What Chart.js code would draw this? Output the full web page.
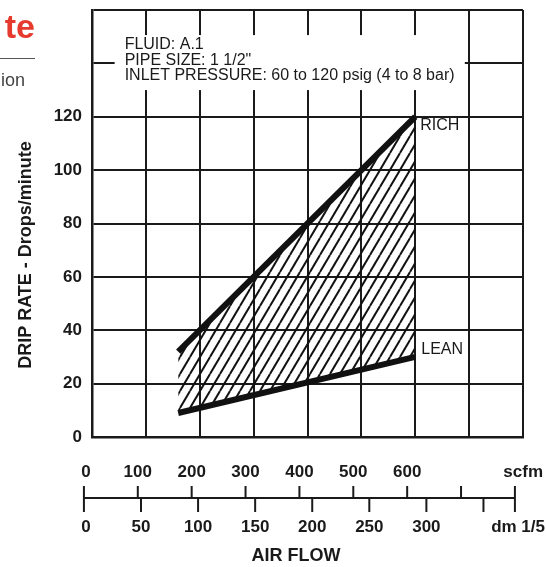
<!DOCTYPE html>
<html><head><meta charset="utf-8">
<script src="https://cdn.jsdelivr.net/npm/chart.js@4"></script>
<style>html,body{margin:0;padding:0;background:#fff;overflow:hidden}canvas{display:block}</style>
</head><body>
<canvas id="c" width="546" height="567"></canvas>
<script>
// ---- data ----
const airFlow = [160, 600];          // grid x (scfm grid)
const rich = [32, 120];              // drops/minute
const lean = [9, 30];
const yTicks = [0, 20, 40, 60, 80, 100, 120];
const scfmTicks = [0, 100, 200, 300, 400, 500, 600];
const scfmMinor = [700];
const scfmEnd = 800;
const dmTicks = [0, 50, 100, 150, 200, 250, 300];
const dmMinor = [350];
const SCFM_PER_DM = 2.1189;
const infoLines = ['FLUID: A.1', 'PIPE SIZE: 1 1/2"', 'INLET PRESSURE: 60 to 120 psig (4 to 8 bar)'];
const seriesLabels = ['RICH', 'LEAN'];

const FONT = "'Liberation Sans', Arial, Helvetica, sans-serif";
const INK = '#1a1a1a';

const canvas = document.getElementById('c');
const ctx = canvas.getContext('2d');

function makeHatch() {
  const t = document.createElement('canvas');
  t.width = 10; t.height = 17;
  const g = t.getContext('2d');
  g.strokeStyle = '#111';
  g.lineWidth = 2;
  for (const o of [-10, 0, 10]) {
    g.beginPath(); g.moveTo(o, 17); g.lineTo(o + 10, 0); g.stroke();
  }
  return ctx.createPattern(t, 'repeat');
}

const overlay = {
  id: 'overlay',
  beforeDatasetsDraw(chart) {
    const c = chart.ctx, x = chart.scales.x, y = chart.scales.y;
    const l = x.getPixelForValue(42), r = x.getPixelForValue(692);
    const t = y.getPixelForValue(150.6), b = y.getPixelForValue(130);
    c.save();
    c.fillStyle = '#fff';
    c.fillRect(l, t, r - l, b - t);
    c.fillStyle = INK;
    c.font = '16px ' + FONT;
    c.textAlign = 'left';
    c.textBaseline = 'alphabetic';
    infoLines.forEach((s, i) => c.fillText(s, l + 10, t + 14 + i * 15.5));
    c.restore();
  },
  afterDatasetsDraw(chart) {
    const c = chart.ctx, x = chart.scales.x, y = chart.scales.y;
    c.save();
    c.fillStyle = INK;
    c.font = '16px ' + FONT;
    c.textAlign = 'left';
    c.textBaseline = 'middle';
    const xe = x.getPixelForValue(airFlow[airFlow.length - 1]);
    c.fillText(seriesLabels[0], xe + 5, y.getPixelForValue(rich[rich.length - 1]) + 9);
    c.fillText(seriesLabels[1], xe + 6, y.getPixelForValue(lean[lean.length - 1]) - 7);
    c.restore();
  },
  afterDraw(chart) {
    const c = chart.ctx, s = chart.scales.x2;
    const axisY = 498, upTop = 486, lowBot = 512;
    c.save();
    c.strokeStyle = INK; c.lineWidth = 2;
    const p0 = s.getPixelForValue(0), pe = s.getPixelForValue(scfmEnd);
    c.beginPath(); c.moveTo(p0, axisY); c.lineTo(pe, axisY); c.stroke();
    for (const v of [0, scfmEnd]) {
      const p = s.getPixelForValue(v);
      c.beginPath(); c.moveTo(p, upTop); c.lineTo(p, lowBot); c.stroke();
    }
    for (const v of scfmTicks.concat(scfmMinor)) {
      if (v === 0) continue;
      const p = s.getPixelForValue(v);
      c.beginPath(); c.moveTo(p, upTop); c.lineTo(p, axisY); c.stroke();
    }
    for (const v of dmTicks.concat(dmMinor)) {
      if (v === 0) continue;
      const p = s.getPixelForValue(v * SCFM_PER_DM);
      c.beginPath(); c.moveTo(p, axisY); c.lineTo(p, lowBot); c.stroke();
    }
    c.fillStyle = INK;
    c.font = 'bold 17px ' + FONT;
    c.textBaseline = 'middle';
    c.textAlign = 'center';
    scfmTicks.forEach(v => c.fillText(String(v), s.getPixelForValue(v) + (v === 0 ? 2 : 0), 472));
    dmTicks.forEach(v => c.fillText(String(v), s.getPixelForValue(v * SCFM_PER_DM) + (v === 0 ? 2 : 0), 527));
    c.textAlign = 'right';
    c.fillText('scfm', 543, 472);
    c.fillText('dm 1/5', 545, 527);
    c.textAlign = 'center';
    c.font = 'bold 18px ' + FONT;
    c.fillText('AIR FLOW', 296, 556);
    // y title
    c.save();
    c.translate(26, 255);
    c.rotate(-Math.PI / 2);
    c.font = 'bold 18px ' + FONT;
    c.fillText('DRIP RATE - Drops/minute', 0, 0);
    c.restore();
    // page fragments at top-left
    c.fillStyle = '#e63a2e';
    c.font = 'bold 34px ' + FONT;
    c.textAlign = 'right';
    c.textBaseline = 'alphabetic';
    c.fillText('te', 35, 38);
    c.strokeStyle = '#555'; c.lineWidth = 1;
    c.beginPath(); c.moveTo(0, 58.5); c.lineTo(35, 58.5); c.stroke();
    c.fillStyle = '#444';
    c.font = '18px ' + FONT;
    c.textAlign = 'left';
    c.fillText('ion', 1, 86);
    c.restore();
  }
};

const gridOpts = { color: INK, lineWidth: 2, drawTicks: false };
new Chart(ctx, {
  type: 'line',
  data: {
    datasets: [
      { label: seriesLabels[0], data: airFlow.map((x, i) => ({ x, y: rich[i] })),
        borderColor: '#111', borderWidth: 6, borderCapStyle: 'butt', pointRadius: 0,
        fill: '+1', backgroundColor: makeHatch(), tension: 0 },
      { label: seriesLabels[1], data: airFlow.map((x, i) => ({ x, y: lean[i] })),
        borderColor: '#111', borderWidth: 6, borderCapStyle: 'butt', pointRadius: 0,
        fill: false, tension: 0 }
    ]
  },
  options: {
    responsive: false, animation: false, devicePixelRatio: 1,
    layout: { padding: { top: 10, right: 23, left: 0, bottom: 0 } },
    plugins: { legend: { display: false }, tooltip: { enabled: false } },
    scales: {
      x: { type: 'linear', min: 0, max: 800, position: 'bottom',
           afterFit(sc) { sc.height = 130; sc.paddingLeft = 0; sc.paddingRight = 0; },
           ticks: { display: false, stepSize: 100 },
           grid: gridOpts, border: { color: INK, width: 2.5 } },
      x2: { type: 'linear', display: false, min: 15, max: 815, position: 'bottom' },
      y: { min: 0, max: 160,
           afterFit(sc) { sc.width = 92; sc.paddingTop = 0; sc.paddingBottom = 0; },
           ticks: { stepSize: 20, padding: 10, color: INK,
                    font: { family: FONT, size: 17, weight: 'bold' },
                    callback: v => yTicks.includes(v) ? String(v) : '' },
           grid: gridOpts, border: { color: INK, width: 2.5 } }
    }
  },
  plugins: [overlay]
});
</script>
</body></html>
